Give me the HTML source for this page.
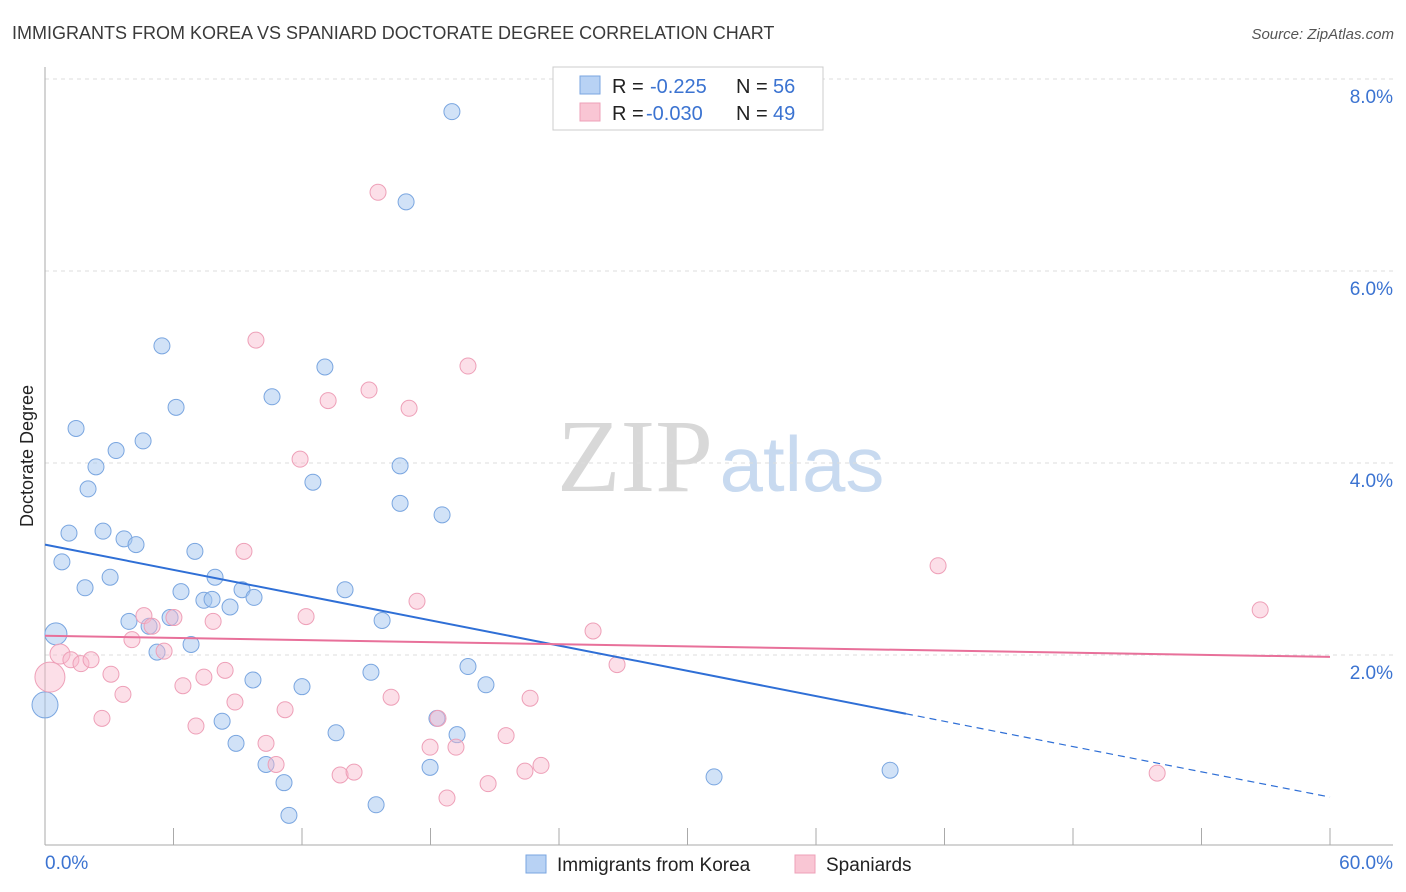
<!DOCTYPE html>
<html><head><meta charset="utf-8"><style>
body{margin:0;background:#fff;font-family:"Liberation Sans",sans-serif;}
#wrap{position:relative;width:1406px;height:892px;overflow:hidden;}
</style></head><body>
<div id="wrap">
<svg id="svg" width="1406" height="892" xmlns="http://www.w3.org/2000/svg">
<text x="12" y="39" font-size="18" fill="#3a3a3a">IMMIGRANTS FROM KOREA VS SPANIARD DOCTORATE DEGREE CORRELATION CHART</text>
<text x="1394" y="39" font-size="15" fill="#555" font-style="italic" text-anchor="end">Source: ZipAtlas.com</text>
<text x="33" y="456" font-size="18" fill="#222" text-anchor="middle" transform="rotate(-90 33 456)">Doctorate Degree</text>
<g>
<text x="635" y="491" font-size="104" fill="#d8d8d8" font-family="Liberation Serif,serif" text-anchor="middle">ZIP</text>
<text x="802" y="491" font-size="78" fill="#c8daf0" text-anchor="middle">atlas</text>
</g>
<g id="grid"></g><g id="pts"></g><g id="lines"></g>
<g>
<rect x="553" y="67" width="270" height="63" fill="#fff" stroke="#ccc"/>
<rect x="580" y="76" width="20" height="18" fill="#b8d2f4" stroke="#7aa6e0"/>
<text x="612" y="93" font-size="20" fill="#222">R = </text><text x="650" y="93" font-size="20" fill="#3b73d1">-0.225</text>
<text x="736" y="93" font-size="20" fill="#222">N = </text><text x="773" y="93" font-size="20" fill="#3b73d1">56</text>
<rect x="580" y="103" width="20" height="18" fill="#f9c6d4" stroke="#eea0b8"/>
<text x="612" y="120" font-size="20" fill="#222">R = </text><text x="646" y="120" font-size="20" fill="#3b73d1">-0.030</text>
<text x="736" y="120" font-size="20" fill="#222">N = </text><text x="773" y="120" font-size="20" fill="#3b73d1">49</text>
</g>
<g>
<rect x="526" y="855" width="20" height="18" fill="#b8d2f4" stroke="#7aa6e0"/>
<text x="557" y="871" font-size="19" fill="#222">Immigrants from Korea</text>
<rect x="795" y="855" width="20" height="18" fill="#f9c6d4" stroke="#eea0b8"/>
<text x="826" y="871" font-size="19" fill="#222">Spaniards</text>
</g>
</svg>
<script>
const blueX=[19.0,16.86,5.46,13.07,6.12,10.6,1.45,4.58,3.32,2.38,16.58,12.51,2.01,16.58,18.54,1.12,2.71,3.69,4.25,7.0,0.79,7.94,3.04,1.87,6.35,9.2,14.01,9.76,7.42,7.8,8.64,3.92,4.86,5.84,15.74,0.51,6.82,5.23,19.75,15.22,9.71,20.59,12.0,0,8.27,18.3,19.24,13.59,8.92,10.32,17.98,31.24,39.46,11.16,15.46,11.39];
const blueY=[7.66,6.72,5.22,5.0,4.58,4.69,4.36,4.23,4.13,3.96,3.97,3.8,3.73,3.58,3.46,3.27,3.29,3.21,3.15,3.08,2.97,2.81,2.81,2.7,2.66,2.68,2.68,2.6,2.57,2.58,2.5,2.35,2.3,2.39,2.36,2.22,2.11,2.03,1.88,1.82,1.74,1.69,1.67,1.48,1.31,1.34,1.17,1.19,1.08,0.86,0.83,0.73,0.8,0.67,0.44,0.33];
const blueR=[8,8,8,8,8,8,8,8,8,8,8,8,8,8,8,8,8,8,8,8,8,8,8,8,8,8,8,8,8,8,8,8,8,8,8,11,8,8,8,8,8,8,8,13,8,8,8,8,8,8,8,8,8,8,8,8];
const pinkX=[15.55,9.85,19.75,15.13,13.22,17.0,11.91,9.29,41.7,17.37,56.74,4.62,12.19,6.02,7.85,5.0,25.59,4.06,5.56,0.7,1.21,1.68,2.15,26.71,8.41,3.08,7.42,0.23,6.44,3.64,16.16,22.65,8.87,11.21,2.66,7.05,18.35,21.53,10.32,17.98,19.19,10.79,23.16,13.78,14.43,22.41,51.93,20.69,18.77];
const pinkY=[6.82,5.28,5.01,4.76,4.65,4.57,4.04,3.08,2.93,2.56,2.47,2.41,2.4,2.39,2.35,2.3,2.25,2.16,2.04,2.01,1.95,1.91,1.95,1.9,1.84,1.8,1.77,1.77,1.68,1.59,1.56,1.55,1.51,1.43,1.34,1.26,1.34,1.16,1.08,1.04,1.04,0.86,0.85,0.75,0.78,0.79,0.77,0.66,0.51];
const pinkR=[8,8,8,8,8,8,8,8,8,8,8,8,8,8,8,8,8,8,8,10,8,8,8,8,8,8,8,15,8,8,8,8,8,8,8,8,8,8,8,8,8,8,8,8,8,8,8,8,8];
const yTicks=[2,4,6,8];
const blueTrend=[3.15,0.52];
const pinkTrend=[2.2,1.98];
const blueSolidEnd=40.2;
const NS="http://www.w3.org/2000/svg";
const xs=v=>45+v/60*1285;
const ys=v=>847-v*96;
function mk(t,a,p){const e=document.createElementNS(NS,t);for(const k in a)e.setAttribute(k,a[k]);p.appendChild(e);return e;}
const grid=document.getElementById('grid');
yTicks.forEach(t=>{
 const l=mk('line',{x1:45,x2:1393,y1:ys(t),y2:ys(t),stroke:'#ddd','stroke-dasharray':'4,4'},grid);
 
 
 const tx=mk('text',{x:1393,y:ys(t)+24,'font-size':19,fill:'#3b73d1','text-anchor':'end'},grid);
 tx.textContent=t.toFixed(1)+'%';
 
 
});
const ax=mk('line',{x1:45,x2:45,y1:67,y2:845,stroke:'#aaa'},grid);


const bx=mk('line',{x1:45,x2:1393,y1:845,y2:845,stroke:'#aaa'},grid);


for(let i=0;i<=10;i++){const t=mk('line',{x1:xs(i*6),x2:xs(i*6),y1:828,y2:845,stroke:'#aaa'},grid);
 
 }
[[0,'0.0%',45,'start'],[60,'60.0%',1393,'end']].forEach(d=>{const t=mk('text',{x:d[2],y:869,'font-size':19,fill:'#3b73d1','text-anchor':d[3]},grid);t.textContent=d[1];
 
 });
const pts=document.getElementById('pts');
blueX.forEach((x,i)=>{const c=mk('circle',{cx:xs(x),cy:ys(blueY[i]),r:blueR[i],fill:'rgba(164,198,240,0.5)',stroke:'#7aa6e0','stroke-width':1},pts);
 
 });
pinkX.forEach((x,i)=>{const c=mk('circle',{cx:xs(x),cy:ys(pinkY[i]),r:pinkR[i],fill:'rgba(248,184,204,0.45)',stroke:'#eea0b8','stroke-width':1},pts);
 
 });
const lines=document.getElementById('lines');
const by=x=>blueTrend[0]+(blueTrend[1]-blueTrend[0])*x/60;
const l1=mk('line',{x1:xs(0),y1:ys(by(0)),x2:xs(blueSolidEnd),y2:ys(by(blueSolidEnd)),stroke:'#2f6fd6','stroke-width':2},lines);


const l2=mk('line',{x1:xs(blueSolidEnd),y1:ys(by(blueSolidEnd)),x2:xs(60),y2:ys(by(60)),stroke:'#2f6fd6','stroke-width':1.2,'stroke-dasharray':'7,5'},lines);


const l3=mk('line',{x1:xs(0),y1:ys(pinkTrend[0]),x2:xs(60),y2:ys(pinkTrend[1]),stroke:'#e8709a','stroke-width':2},lines);


</script>
</div>
</body></html>
